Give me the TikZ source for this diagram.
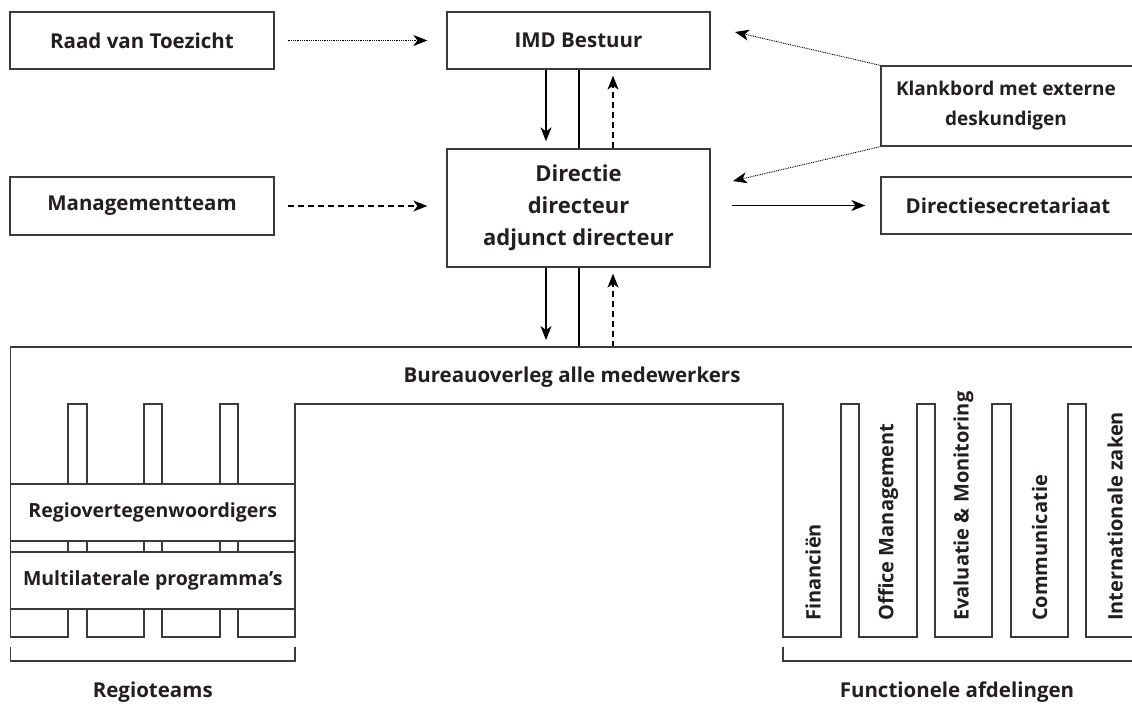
\documentclass[tikz,border=0pt]{standalone}
\usepackage{fontspec}
\setmainfont{Open Sans}
\usetikzlibrary{arrows.meta}
\definecolor{linecol}{HTML}{3A3A3A}
\definecolor{txtcol}{HTML}{231F20}
\begin{document}
\begin{tikzpicture}[x=1pt,y=-1pt,
  lab/.style={inner sep=0pt, text=txtcol, font=\fontsize{20.5}{32}\selectfont\bfseries},
  box/.style={lab, draw=linecol, line width=1.3pt, fill=white},
  arr/.style={-{Stealth[length=14pt,width=11pt,inset=4pt]}, line width=1.2pt, draw=black},
  dotarr/.style={arr, line width=0.9pt, dash pattern=on 0.9pt off 0.9pt},
  dasharr/.style={arr, dash pattern=on 6pt off 4pt},
  outline/.style={draw=linecol, line width=1.3pt},
  vlab/.style={lab, rotate=90, anchor=west, font=\fontsize{20}{32}\selectfont\bfseries}
]
\useasboundingbox (0,0) rectangle (1132,722);
\clip (0,0) rectangle (1132,722);
\fill[white] (0,0) rectangle (1132,722);

% top boxes
\node[box, minimum width=264, minimum height=57] (rvt) at (142,40.5) {Raad van Toezicht};
\node[box, minimum width=263, minimum height=57] (imd) at (578.5,40.5) {IMD Bestuur};
\node[box, minimum width=264, minimum height=58] (mt) at (142,206) {Managementteam};
\node[box, minimum width=263, minimum height=118, align=center, font=\fontsize{22}{32}\selectfont\bfseries] (dir) at (578.5,208) {Directie\\directeur\\adjunct directeur};
\node[box, minimum width=264, minimum height=80] (klank) at (1013,106) {};
\node[lab, align=center, font=\fontsize{19}{30}\selectfont\bfseries] (klankt) at (1006,106) {Klankbord met externe\\deskundigen};
\node[box, minimum width=264, minimum height=57] (dsec) at (1013,205.5) {};
\node[lab] (dsect) at (1008,205.5) {Directiesecretariaat};

\coordinate (btop) at (578.5,347);
\coordinate (kt) at (735,32);
\coordinate (kb) at (733,181);

% connectors
\draw[dotarr] ([xshift=13pt]rvt.east) -- ([xshift=-19pt]imd.west);
\draw[dasharr] ([xshift=13pt]mt.east) -- ([xshift=-19pt]dir.west |- mt.east);
\draw[arr] ([xshift=21pt]dir.east |- dsec.west) -- ([xshift=-15pt]dsec.west);
\draw[dotarr] (klank.north west) -- (kt);
\draw[dotarr] (klank.south west) -- (kb);

\draw[arr] ([xshift=-32.5pt]imd.south) -- ([xshift=-32.5pt,yshift=7pt]dir.north);
\draw[line width=1.3pt] ([xshift=0.5pt]imd.south) -- ([xshift=0.5pt]dir.north);
\draw[dasharr] ([xshift=34.5pt]dir.north) -- ([xshift=34.5pt,yshift=-6pt]imd.south);

\draw[arr] ([xshift=-32.5pt]dir.south) -- ([xshift=-32.5pt,yshift=7pt]btop);
\draw[line width=1.3pt] ([xshift=0.5pt]dir.south) -- ([xshift=0.5pt]btop);
\draw[dasharr] ([xshift=34.5pt]btop) -- ([xshift=34.5pt,yshift=-6pt]dir.south);

% Bureauoverleg outline with combs
\draw[outline] (1150,347) -- (10.5,347) -- (10.5,637)
  -- (68,637) -- (68,404) -- (87,404) -- (87,637)
  -- (144,637) -- (144,404) -- (162,404) -- (162,637)
  -- (220,637) -- (220,404) -- (238,404) -- (238,637)
  -- (295,637) -- (295,404) -- (783,404) -- (783,637)
  -- (841,637) -- (841,404) -- (859,404) -- (859,637)
  -- (917,637) -- (917,404) -- (935,404) -- (935,637)
  -- (992,637) -- (992,404) -- (1011,404) -- (1011,637)
  -- (1068,637) -- (1068,404) -- (1086,404) -- (1086,637)
  -- (1150,637);
\node[lab] (bureau) at (572,377) {Bureauoverleg alle medewerkers};

% left comb boxes
\node[box, minimum width=284.5, minimum height=57, font=\fontsize{19.5}{32}\selectfont\bfseries] (regio) at (152.75,512.5) {Regiovertegenwoordigers};
\node[box, minimum width=284.5, minimum height=57, font=\fontsize{19.5}{32}\selectfont\bfseries] (multi) at (152.75,580.5) {Multilaterale programma’s};

% right comb labels
\node[vlab] (fin) at (813,621) {Financiën};
\node[vlab] (office) at (888,621) {Office Management};
\node[vlab] (eval) at (963.5,621) {Evaluatie \& Monitoring};
\node[vlab] (comm) at (1039.5,621) {Communicatie};
\node[vlab] (intl) at (1115,621) {Internationale zaken};

% brackets
\draw[outline] (10.5,647) -- (10.5,661) -- (295,661) -- (295,647);
\draw[outline] (783,647) -- (783,661) -- (1150,661);
\node[lab] (regioteams) at (152.75,692) {Regioteams};
\node[lab] (functioneel) at (957,692) {Functionele afdelingen};
\end{tikzpicture}
\end{document}
